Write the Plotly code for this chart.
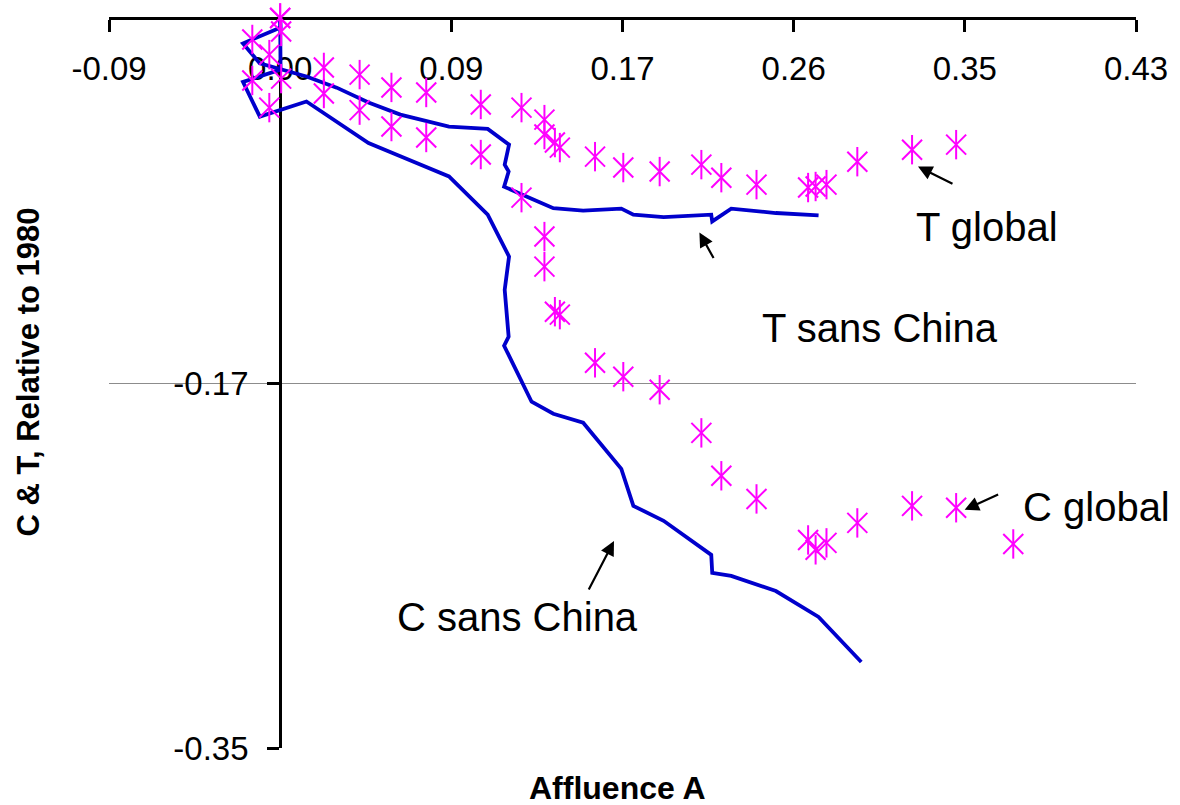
import plotly.graph_objects as go

# ---------------- data ----------------
# Global series: affluence A, and T, C relative to 1980 (shared x per year)
affluence_global = [0.0, 0.0005, -0.0141, -0.0055, 0.0221, 0.0402, 0.0563, 0.0739,
                    0.1015, 0.1221, 0.1337, 0.1337, 0.1390, 0.1415, 0.1593, 0.1736,
                    0.1920, 0.2131, 0.2232, 0.2410, 0.2671, 0.2709, 0.2764, 0.2920,
                    0.3197, 0.3420, 0.3709]
t_global = [0.0, -0.0064, -0.0102, -0.0174, -0.0235, -0.0269, -0.0330, -0.0354,
            -0.0411, -0.0426, -0.0483, -0.0554, -0.0592, -0.0616, -0.0659, -0.0711,
            -0.0730, -0.0697, -0.0759, -0.0792, -0.0806, -0.0801, -0.0792, -0.0683,
            -0.0626, -0.0602, None]
c_global = [0.0, -0.0288, -0.0297, -0.0426, -0.0359, -0.0438, -0.0516, -0.0568,
            -0.0649, -0.0854, -0.1039, -0.1182, -0.1396, -0.1410, -0.1639, -0.1705,
            -0.1767, -0.1972, -0.2176, -0.2286, -0.2481, -0.2528, -0.2495, -0.2400,
            -0.2319, -0.2328, -0.2500]

# Series without China
affluence_sans_china = [0.0, 0.0002, -0.0188, -0.0103, 0.0133, 0.0286, 0.0447, 0.0608,
                        0.0854, 0.1050, 0.1158, 0.1136, 0.1156, 0.1133, 0.1272, 0.1382,
                        0.1533, 0.1726, 0.1787, 0.1940, 0.2181, 0.2186, 0.2282, 0.2508,
                        0.2724, 0.2940]
t_sans_china = [0.0, -0.0045, -0.0121, -0.0216, -0.0278, -0.0331, -0.0402, -0.0459,
                -0.0516, -0.0527, -0.0602, -0.0697, -0.0730, -0.0802, -0.0859, -0.0904,
                -0.0916, -0.0906, -0.0935, -0.0947, -0.0935, -0.0967, -0.0906, -0.0927,
                -0.0938, None]
c_sans_china = [0.0, -0.0245, -0.0304, -0.0469, -0.0397, -0.0492, -0.0594, -0.0657,
                -0.0753, -0.0935, -0.1134, -0.1292, -0.1515, -0.1558, -0.1824, -0.1881,
                -0.1924, -0.2143, -0.2319, -0.2390, -0.2552, -0.2638, -0.2652, -0.2724,
                -0.2847, -0.3061]

x_tick_values = [-0.0866, 0.0, 0.0866, 0.1732, 0.2598, 0.3464, 0.4330]
x_tick_labels = ["-0.09", "0.00", "0.09", "0.17", "0.26", "0.35", "0.43"]
y_tick_values = [0.0, -0.1735, -0.3470]
y_tick_labels = ["0.00", "-0.17", "-0.35"]

# ---------------- styling ----------------
BLUE = "#0000CC"
MAGENTA = "#FF00FF"
FONT = "Liberation Sans, Arial, sans-serif"

fig = go.Figure()

for name, ys in [("T sans China", t_sans_china), ("C sans China", c_sans_china)]:
    fig.add_trace(go.Scatter(
        x=affluence_sans_china, y=ys, mode="lines", name=name,
        line=dict(color=BLUE, width=3.8), cliponaxis=False))

# Excel-style six-armed star marker = thin X + vertical bar
for name, ys in [("T global", t_global), ("C global", c_global)]:
    for sym, sz in [("x-thin-open", 20), ("line-ns-open", 21)]:
        fig.add_trace(go.Scatter(
            x=affluence_global, y=ys, mode="markers", name=name,
            marker=dict(symbol=sym, size=sz, color=MAGENTA,
                        line=dict(color=MAGENTA, width=2)),
            cliponaxis=False))

fig.update_layout(
    width=1180, height=805,
    margin=dict(l=109, r=37, t=18, b=57),
    plot_bgcolor="white", paper_bgcolor="white",
    showlegend=False,
    font=dict(family=FONT, color="black"),
)

fig.update_xaxes(
    range=[-0.0866, 0.4330], anchor="free", position=1, side="bottom",
    showline=True, linecolor="black", linewidth=3,
    ticks="outside", ticklen=12, tickwidth=3, tickcolor="black",
    tickvals=x_tick_values, ticktext=x_tick_labels,
    tickfont=dict(size=33, family=FONT, color="black"),
    ticklabelstandoff=8,
    showgrid=False, zeroline=False, layer="below traces",
)

fig.update_yaxes(
    range=[-0.3470, 0.0], anchor="free", position=1 / 6, side="left",
    showline=True, linecolor="black", linewidth=3,
    ticks="outside", ticklen=12, tickwidth=3, tickcolor="black",
    tickvals=y_tick_values, ticktext=y_tick_labels,
    tickfont=dict(size=33, family=FONT, color="black"),
    ticklabelstandoff=12,
    showgrid=True, gridcolor="#8c8c8c", gridwidth=1,
    zeroline=False, layer="below traces",
)

# text labels for the series
labels = [
    ("T global", 0.3578, -0.0992),
    ("T sans China", 0.3036, -0.1472),
    ("C global", 0.4131, -0.2324),
    ("C sans China", 0.1201, -0.2847),
]
for txt, lx, ly in labels:
    fig.add_annotation(x=lx, y=ly, xref="x", yref="y", text=txt, showarrow=False,
                       font=dict(size=40, family=FONT, color="black"),
                       xanchor="center", yanchor="middle")

# arrows (head position, tail offset in px)
arrows = [
    (0.3227, -0.0706, 36, 18),
    (0.2121, -0.1020, 15, 27),
    (0.3463, -0.2338, 35, -16),
    (0.1689, -0.2486, -26, 50),
]
for hx, hy, tx, ty in arrows:
    fig.add_annotation(x=hx, y=hy, xref="x", yref="y", ax=tx, ay=ty, text="",
                       showarrow=True, arrowhead=2, arrowsize=1.3, arrowwidth=2.2,
                       arrowcolor="black", standoff=0)

# axis titles
fig.add_annotation(x=(27 - 109) / 1034, y=(748 - 372) / 730, xref="paper", yref="paper",
                   text="<b>C &amp; T, Relative to 1980</b>", textangle=-90, showarrow=False,
                   font=dict(size=31, family=FONT, color="black"),
                   xanchor="center", yanchor="middle")
fig.add_annotation(x=(621 - 109) / 1034, y=(748 - 788) / 730, xref="paper", yref="paper",
                   text="<b>Affluence A</b>", showarrow=False,
                   font=dict(size=32, family=FONT, color="black"),
                   xanchor="center", yanchor="middle")

fig.write_html("out.html",
               config={"displayModeBar": False},
               post_script="document.body.style.margin='0';document.body.style.overflow='hidden';")
